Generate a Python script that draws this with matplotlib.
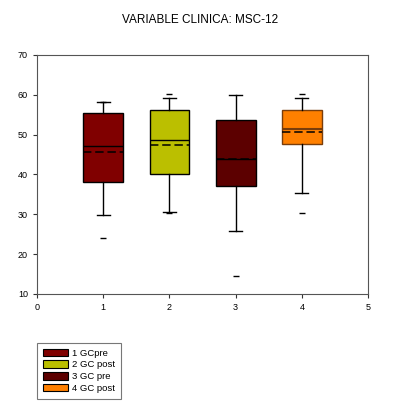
import matplotlib
matplotlib.use("Agg")
import matplotlib.pyplot as plt
from matplotlib.patches import Patch

plt.rcParams['font.family'] = ['Liberation Sans', 'DejaVu Sans']

labels = ["1 GCpre", "2 GC post", "3 GC pre", "4 GC post"]
positions = [1, 2, 3, 4]
q1 = [38.1, 40.0, 37.0, 47.6]
q3 = [55.4, 56.1, 53.7, 56.3]
medians = [47.1, 48.6, 44.0, 51.4]
means = [45.6, 47.4, 44.0, 50.7]
whislo = [29.8, 30.5, 25.8, 35.3]
whishi = [58.2, 59.2, 60.0, 59.3]
fliers = [[24.0, 58.3], [30.2, 60.2], [14.6], [30.2, 60.2]]
face_colors = ["#800000", "#bbbf00", "#5c0000", "#ff8000"]
edge_colors = ["#000000", "#000000", "#000000", "#7a3d0a"]

fig = plt.figure(figsize=(4.01, 4.01), dpi=100)
ax = fig.add_axes([0.092, 0.267, 0.826, 0.596])

stats = []
for i in range(4):
    stats.append(dict(q1=q1[i], q3=q3[i], med=medians[i], mean=means[i],
                      whislo=whislo[i], whishi=whishi[i], fliers=fliers[i]))

bp = ax.bxp(stats, positions=positions, widths=0.6, patch_artist=True,
            showmeans=True, meanline=True, showfliers=True, manage_ticks=False,
            flierprops=dict(marker='_', markersize=4, markeredgecolor='black', markeredgewidth=1),
            medianprops=dict(color='black', linewidth=1),
            meanprops=dict(color='black', linestyle=(0, (5.5, 2.5)), linewidth=1.1),
            whiskerprops=dict(color='black', linewidth=1),
            capprops=dict(color='black', linewidth=1),
            boxprops=dict(linewidth=1), capwidths=0.2)
for i, b in enumerate(bp['boxes']):
    b.set_facecolor(face_colors[i])
    b.set_edgecolor(edge_colors[i])
bp['medians'][3].set_color(edge_colors[3])
bp['medians'][3].set_linewidth(1.5)

ax.set_xlim(0, 5)
ax.set_ylim(10, 70)
ax.set_xticks([0, 1, 2, 3, 4, 5])
ax.set_xticklabels(["0", "1", "2", "3", "4", "5"])
ax.set_yticks([10, 20, 30, 40, 50, 60, 70])
ax.tick_params(direction='out', length=3, labelsize=6.5, width=0.8, colors='#333333', labelcolor='black')
for s in ax.spines.values():
    s.set_color('#555555')
    s.set_linewidth(0.8)

fig.suptitle("VARIABLE CLINICA: MSC-12", x=0.5, y=0.965, fontsize=8.5)

handles = [Patch(facecolor=face_colors[i], edgecolor='black', linewidth=0.8) for i in range(4)]
leg = fig.legend(handles, labels, loc='upper left', bbox_to_anchor=(0.092, 0.145),
                 borderaxespad=0, fontsize=6.8, frameon=True, fancybox=False, edgecolor='#555555',
                 handlelength=2.7, handleheight=0.8, labelspacing=0.3, borderpad=0.6,
                 handletextpad=0.4)
leg.get_frame().set_linewidth(0.8)

fig.savefig("out.png", dpi=100)
